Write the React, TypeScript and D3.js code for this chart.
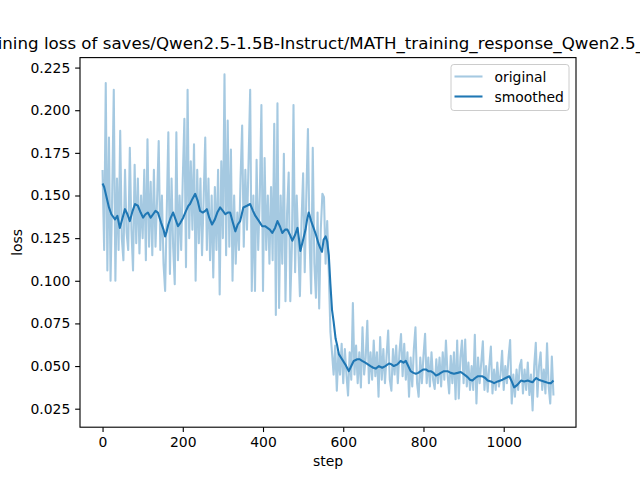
import React, { useEffect, useRef } from "react";
import * as d3 from "d3";

const sampleEvery = 4;
const originalLoss = [
  0.165, 0.118, 0.216, 0.106, 0.184, 0.100, 0.150, 0.212, 0.100, 0.160,
  0.118, 0.188, 0.125, 0.112, 0.165, 0.128, 0.118, 0.178, 0.130, 0.106,
  0.168, 0.122, 0.160, 0.116, 0.150, 0.125, 0.165, 0.112, 0.183, 0.120,
  0.158, 0.115, 0.165, 0.120, 0.148, 0.182, 0.118, 0.150, 0.110, 0.094,
  0.140, 0.187, 0.104, 0.160, 0.120, 0.098, 0.187, 0.112, 0.150, 0.118,
  0.160, 0.195, 0.108, 0.212, 0.125, 0.170, 0.130, 0.180, 0.100, 0.165,
  0.122, 0.160, 0.115, 0.148, 0.184, 0.118, 0.160, 0.112, 0.150, 0.102,
  0.155, 0.118, 0.165, 0.092, 0.170, 0.125, 0.221, 0.115, 0.194, 0.120,
  0.177, 0.100, 0.150, 0.110, 0.140, 0.118, 0.160, 0.191, 0.120, 0.165,
  0.130, 0.170, 0.212, 0.094, 0.150, 0.094, 0.171, 0.118, 0.150, 0.203,
  0.094, 0.172, 0.118, 0.150, 0.110, 0.155, 0.112, 0.192, 0.080, 0.204,
  0.084, 0.150, 0.110, 0.1745, 0.088, 0.140, 0.1635, 0.088, 0.120, 0.203,
  0.105, 0.150, 0.120, 0.091, 0.135, 0.163, 0.105, 0.150, 0.189, 0.125,
  0.0925, 0.178, 0.110, 0.090, 0.140, 0.0837, 0.130, 0.151, 0.149, 0.110,
  0.135, 0.105, 0.070, 0.058, 0.045, 0.062, 0.0356, 0.058, 0.045, 0.063,
  0.040, 0.060, 0.045, 0.0327, 0.058, 0.042, 0.087, 0.045, 0.062, 0.040,
  0.058, 0.0375, 0.0727, 0.045, 0.055, 0.0766, 0.040, 0.058, 0.042, 0.065,
  0.044, 0.058, 0.032, 0.067, 0.042, 0.060, 0.040, 0.056, 0.0708, 0.042,
  0.0356, 0.060, 0.045, 0.062, 0.040, 0.058, 0.0688, 0.044, 0.063, 0.042,
  0.058, 0.032, 0.055, 0.038, 0.060, 0.0727, 0.040, 0.032, 0.055, 0.040,
  0.056, 0.0689, 0.040, 0.055, 0.038, 0.058, 0.042, 0.0366, 0.054, 0.040,
  0.055, 0.038, 0.058, 0.042, 0.065, 0.045, 0.034, 0.056, 0.040, 0.058,
  0.0305, 0.065, 0.031, 0.055, 0.065, 0.040, 0.0655, 0.038, 0.052, 0.036,
  0.050, 0.036, 0.0683, 0.028, 0.055, 0.040, 0.052, 0.0645, 0.036, 0.050,
  0.035, 0.050, 0.0614, 0.034, 0.048, 0.036, 0.052, 0.038, 0.045, 0.059,
  0.036, 0.050, 0.040, 0.055, 0.0653, 0.028, 0.045, 0.032, 0.048, 0.036,
  0.050, 0.0536, 0.034, 0.048, 0.036, 0.052, 0.033, 0.045, 0.024, 0.050,
  0.0636, 0.032, 0.050, 0.058, 0.036, 0.048, 0.034, 0.0634, 0.038, 0.028,
  0.0556, 0.0327,
];

const smoothedSteps = [
  0, 4, 10, 16, 22, 31, 37, 43, 50, 56, 62, 68, 75, 81, 88, 95, 101, 107, 113, 120,
  126, 132, 138, 146, 152, 156, 160, 164, 170, 176, 182, 188, 194, 201, 208, 214, 218, 224, 231, 237,
  243, 250, 256, 260, 266, 273, 280, 286, 293, 300, 306, 312, 318, 325, 331, 337, 343, 351, 360, 368,
  375, 381, 390, 398, 405, 411, 417, 423, 430, 436, 442, 448, 455, 461, 467, 473, 480, 486, 490, 493,
  500, 506, 510, 514, 520, 526, 532, 538, 543, 547, 551, 556, 560, 564, 568, 572, 576, 581, 585, 589,
  597, 605, 614, 620, 626, 635, 641, 647, 655, 668, 675, 681, 689, 697, 705, 714, 720, 726, 735, 743,
  750, 756, 762, 768, 775, 781, 787, 793, 800, 806, 812, 818, 825, 831, 837, 843, 851, 860, 868, 876,
  885, 893, 902, 910, 916, 922, 929, 935, 941, 947, 954, 960, 968, 976, 985, 997, 1005, 1014, 1020, 1026,
  1034, 1043, 1051, 1060, 1066, 1072, 1077, 1081, 1087, 1093, 1100, 1106, 1112, 1118, 1124,
];
const smoothedLoss = [
  0.157, 0.155, 0.149, 0.143, 0.139, 0.136, 0.138, 0.131, 0.137, 0.142, 0.139, 0.135, 0.141, 0.145, 0.144, 0.140, 0.137, 0.139, 0.140, 0.137,
  0.139, 0.141, 0.140, 0.134, 0.130, 0.126, 0.129, 0.133, 0.137, 0.140, 0.136, 0.132, 0.134, 0.137, 0.141, 0.144, 0.145, 0.148, 0.151, 0.147,
  0.141, 0.140, 0.141, 0.142, 0.137, 0.133, 0.136, 0.140, 0.143, 0.141, 0.139, 0.140, 0.140, 0.134, 0.129, 0.133, 0.135, 0.143, 0.144, 0.145,
  0.141, 0.138, 0.135, 0.132, 0.132, 0.131, 0.130, 0.128, 0.131, 0.135, 0.132, 0.128, 0.130, 0.130, 0.127, 0.1235, 0.127, 0.131, 0.124, 0.1175,
  0.124, 0.130, 0.136, 0.140, 0.135, 0.131, 0.127, 0.122, 0.119, 0.117, 0.124, 0.126, 0.123, 0.115, 0.098, 0.083, 0.076, 0.066, 0.062, 0.057,
  0.054, 0.051, 0.047, 0.050, 0.053, 0.054, 0.054, 0.053, 0.052, 0.050, 0.049, 0.0485, 0.050, 0.049, 0.050, 0.0515, 0.051, 0.050, 0.051, 0.053,
  0.052, 0.053, 0.050, 0.047, 0.046, 0.0455, 0.046, 0.047, 0.048, 0.048, 0.047, 0.047, 0.046, 0.0445, 0.045, 0.046, 0.047, 0.047, 0.046, 0.0455,
  0.046, 0.0465, 0.045, 0.0435, 0.042, 0.0415, 0.043, 0.044, 0.044, 0.044, 0.043, 0.0415, 0.041, 0.040, 0.041, 0.042, 0.043, 0.044, 0.041, 0.0375,
  0.039, 0.0415, 0.041, 0.0415, 0.041, 0.0405, 0.042, 0.043, 0.042, 0.0415, 0.041, 0.0405, 0.040, 0.040, 0.0415,
];

const xTicks = [0, 200, 400, 600, 800, 1000];
const yTicks = [0.025, 0.05, 0.075, 0.1, 0.125, 0.15, 0.175, 0.2, 0.225];
const seriesNames = ["original", "smoothed"];
const titleText =
  "training loss of saves/Qwen2.5-1.5B-Instruct/MATH_training_response_Qwen2.5_1.5B";

const W = 640;
const H = 480;
const left = 80, right = 576, top = 57.6, bottom = 427.2;
const blue = "#1f77b4";
const font = "DejaVu Sans, sans-serif";

export default function App() {
  const ref = useRef<SVGSVGElement | null>(null);

  useEffect(() => {
    const svg = d3.select(ref.current);
    svg.selectAll("*").remove();

    const original = originalLoss.map((v, i) => [i * sampleEvery, v] as [number, number]);
    const smoothed = smoothedLoss.map((v, i) => [smoothedSteps[i], v] as [number, number]);

    const xMax = d3.max(original, (d) => d[0]) as number;
    const xPad = xMax * 0.05;
    const x = d3.scaleLinear().domain([-xPad, xMax + xPad]).range([left, right]);

    const all = originalLoss.concat(smoothedLoss);
    const yMin = d3.min(all) as number;
    const yMax = d3.max(all) as number;
    const yPad = (yMax - yMin) * 0.05;
    const y = d3.scaleLinear().domain([yMin - yPad, yMax + yPad]).range([bottom, top]);

    const line = d3.line<[number, number]>()
      .x((d) => x(d[0]))
      .y((d) => y(d[1]));

    svg.append("defs").append("clipPath").attr("id", "plotclip")
      .append("rect")
      .attr("x", left).attr("y", top)
      .attr("width", right - left).attr("height", bottom - top);

    const plot = svg.append("g").attr("clip-path", "url(#plotclip)");
    plot.append("path")
      .datum(original)
      .attr("fill", "none")
      .attr("stroke", blue)
      .attr("stroke-opacity", 0.4)
      .attr("stroke-width", 2.08)
      .attr("stroke-linejoin", "round")
      .attr("d", line);
    plot.append("path")
      .datum(smoothed)
      .attr("fill", "none")
      .attr("stroke", blue)
      .attr("stroke-width", 2.08)
      .attr("stroke-linejoin", "round")
      .attr("d", line);

    // axes
    const xAxis = d3.axisBottom(x).tickValues(xTicks).tickFormat(d3.format("d"))
      .tickSize(4.86).tickPadding(4.86).tickSizeOuter(0);
    const gx = svg.append("g").attr("transform", `translate(0,${bottom})`).call(xAxis);
    const yAxis = d3.axisLeft(y).tickValues(yTicks).tickFormat(d3.format(".3f"))
      .tickSize(4.86).tickPadding(4.86).tickSizeOuter(0);
    const gy = svg.append("g").attr("transform", `translate(${left},0)`).call(yAxis);
    [gx, gy].forEach((g) => {
      g.select(".domain").remove();
      g.selectAll("line").attr("stroke", "#000").attr("stroke-width", 1.11);
      g.selectAll("text")
        .attr("fill", "#000")
        .attr("font-family", font)
        .attr("font-size", 13.9);
    });

    svg.append("rect")
      .attr("x", left).attr("y", top)
      .attr("width", right - left).attr("height", bottom - top)
      .attr("fill", "none")
      .attr("stroke", "#000")
      .attr("stroke-width", 1.11);

    svg.append("text")
      .attr("x", (left + right) / 2).attr("y", 466)
      .attr("text-anchor", "middle")
      .attr("font-family", font).attr("font-size", 13.9)
      .text("step");
    svg.append("text")
      .attr("transform", `translate(22,${(top + bottom) / 2}) rotate(-90)`)
      .attr("text-anchor", "middle")
      .attr("font-family", font).attr("font-size", 13.9)
      .text("loss");

    // title is wider than the figure, clipped on both sides like the original
    svg.append("text")
      .attr("x", (left + right) / 2).attr("y", 49)
      .attr("text-anchor", "middle")
      .attr("font-family", font).attr("font-size", 16.67)
      .text(titleText);

    // legend
    const lg = svg.append("g");
    lg.append("rect")
      .attr("x", 451).attr("y", 64.5)
      .attr("width", 118).attr("height", 46)
      .attr("rx", 2.8)
      .attr("fill", "#fff").attr("fill-opacity", 0.8)
      .attr("stroke", "#ccc");
    seriesNames.forEach((name, i) => {
      const cy = 76.5 + i * 20;
      lg.append("line")
        .attr("x1", 454.5).attr("x2", 482.5)
        .attr("y1", cy).attr("y2", cy)
        .attr("stroke", blue)
        .attr("stroke-opacity", i === 0 ? 0.4 : 1)
        .attr("stroke-width", 2.08);
      lg.append("text")
        .attr("x", 494.5).attr("y", cy + 5)
        .attr("font-family", font).attr("font-size", 13.9)
        .text(name);
    });
  }, []);

  return (
    <svg
      ref={ref}
      width={W}
      height={H}
      style={{ position: "absolute", left: 0, top: 0, background: "#fff" }}
    />
  );
}
